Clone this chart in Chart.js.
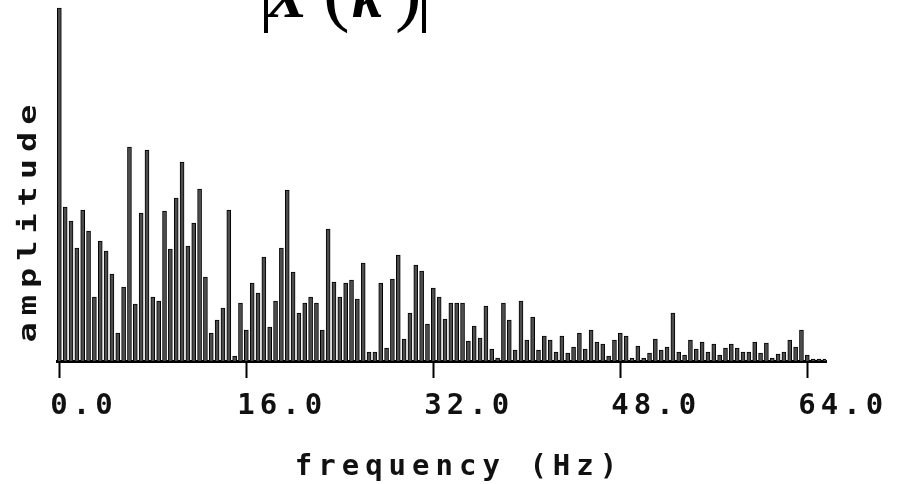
<!DOCTYPE html>
<html>
<head>
<meta charset="utf-8">
<title>|X(k)| spectrum</title>
<script src="https://cdn.jsdelivr.net/npm/chart.js@4.4.1/dist/chart.umd.min.js"></script>
<style>
  html, body { margin: 0; padding: 0; background: #fff; overflow: hidden; }
  #spectrum { display: block; }
</style>
</head>
<body>
<canvas id="spectrum" width="899" height="484"></canvas>
<script>
// spectrum, one bin every 0.5 Hz from 0 to 65.5 Hz
const freqStep = 0.5;
const amplitude = [
  353, 154, 140, 113, 151, 130, 64, 120, 110, 87, 28, 74, 214, 57, 148, 211,
  64, 60, 150, 112, 163, 199, 115, 138, 172, 84, 28, 41, 53, 151, 5, 58,
  31, 78, 68, 104, 34, 60, 113, 171, 89, 48, 58, 64, 58, 31, 132, 79,
  64, 78, 81, 62, 98, 9, 9, 78, 13, 82, 106, 22, 48, 96, 90, 37,
  73, 64, 42, 58, 58, 58, 20, 35, 23, 55, 12, 3, 58, 41, 11, 60,
  21, 44, 11, 25, 21, 9, 25, 8, 14, 28, 12, 31, 19, 17, 5, 21,
  28, 25, 3, 15, 3, 8, 22, 11, 14, 48, 9, 6, 21, 12, 19, 9,
  17, 6, 13, 17, 13, 9, 9, 19, 8, 18, 3, 7, 9, 21, 14, 31,
  6, 2, 2, 2
];
const freqTicks = [0, 16, 32, 48, 64];
const xTitle = 'frequency (Hz)';
const yTitle = 'amplitude';

const points = amplitude.map((v, i) => ({ x: i * freqStep, y: v }));

const monoFont = '"DejaVu Sans Mono", monospace';

// old plotter fonts are wide, so space the letters out
const labelsPlugin = {
  id: 'labels',
  beforeDraw(chart) { chart.ctx.letterSpacing = '5px'; },
  afterDraw(chart) {
    const ctx = chart.ctx;

    // x axis title
    ctx.save();
    ctx.font = 'bold 29px ' + monoFont;
    ctx.letterSpacing = '6px';
    ctx.fillStyle = '#111';
    ctx.textAlign = 'center';
    ctx.textBaseline = 'middle';
    ctx.fillText(xTitle, 459, 467);
    ctx.restore();

    // y axis title
    ctx.save();
    ctx.letterSpacing = '5px';
    ctx.translate(30, 220);
    ctx.rotate(-Math.PI / 2);
    ctx.scale(1.4, 1);
    ctx.font = 'bold 24px ' + monoFont;
    ctx.fillStyle = '#111';
    ctx.textAlign = 'center';
    ctx.textBaseline = 'middle';
    ctx.fillText(yTitle, 0, 0);
    ctx.restore();

    // |X(k)| heading, cut by the top of the scan
    ctx.save();
    ctx.letterSpacing = '0px';
    ctx.fillStyle = '#000';
    ctx.textBaseline = 'alphabetic';
    ctx.font = '80px "Liberation Serif", serif';
    ctx.fillText('|', 258, 16);
    ctx.fillText('(', 323, 16);
    ctx.fillText(')', 395, 16);
    ctx.fillText('|', 416, 16);
    ctx.font = 'bold italic 62px "Liberation Serif", serif';
    ctx.fillText('X', 266, 17);
    ctx.fillText('k', 352, 17);
    ctx.restore();

    ctx.letterSpacing = '0px';
  }
};

new Chart(document.getElementById('spectrum'), {
  type: 'bar',
  data: {
    datasets: [{
      data: points,
      backgroundColor: '#4d4d4d',
      borderColor: '#000',
      borderWidth: 1,
      barThickness: 4
    }]
  },
  options: {
    responsive: false,
    animation: false,
    layout: { padding: { left: 57, right: 73, top: 0, bottom: 0 } },
    plugins: {
      legend: { display: false },
      tooltip: { enabled: false }
    },
    scales: {
      x: {
        type: 'linear',
        offset: false,
        min: -0.2,
        max: 65.6,
        afterFit: (scale) => { scale.height = 123; },
        afterBuildTicks: (scale) => { scale.ticks = freqTicks.map(v => ({ value: v })); },
        border: { display: true, color: '#000', width: 3 },
        grid: {
          display: true,
          offset: false,
          drawOnChartArea: false,
          drawTicks: true,
          tickLength: 17,
          tickWidth: 2,
          tickColor: '#000'
        },
        ticks: {
          align: 'start',
          labelOffset: -9,
          padding: 14,
          maxRotation: 0,
          autoSkip: false,
          includeBounds: false,
          color: '#111',
          font: { family: monoFont, size: 29, weight: 'bold', lineHeight: 1 },
          callback: (v) => Number(v).toFixed(1)
        }
      },
      y: {
        display: false,
        min: 0,
        max: 361
      }
    }
  },
  plugins: [labelsPlugin]
});
</script>
</body>
</html>
